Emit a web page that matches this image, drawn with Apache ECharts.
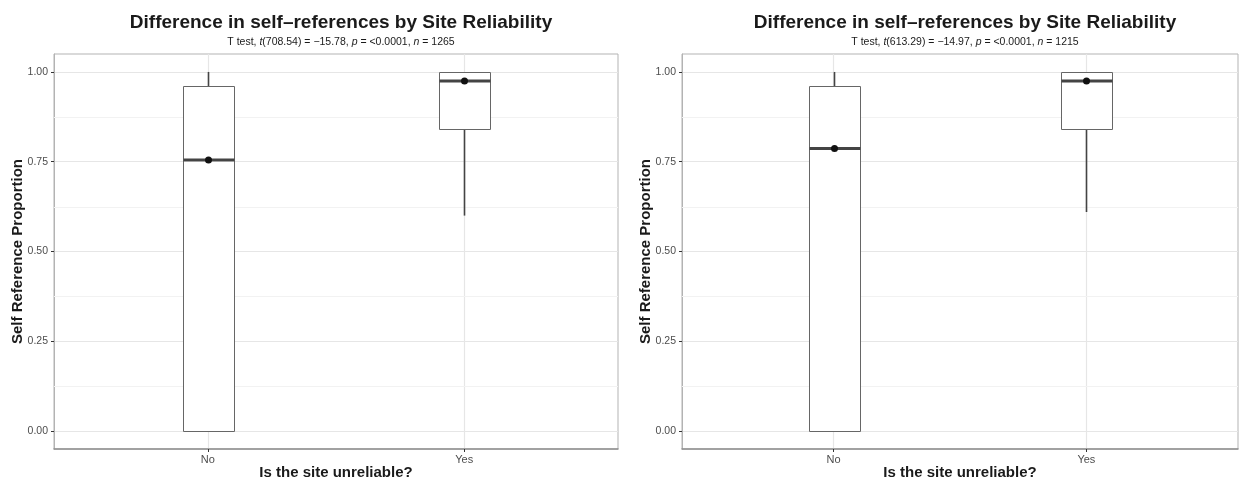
<!DOCTYPE html>
<html>
<head>
<meta charset="utf-8">
<script src="https://cdn.jsdelivr.net/npm/echarts@6/dist/echarts.min.js"></script>
<style>
  html, body { margin: 0; padding: 0; background: #fff; }
  #main { width: 1239px; height: 480px; }
</style>
</head>
<body>
<div id="main"></div>
<script>
// categories on the x axis
var categories = ['No', 'Yes'];
// box stats per category: [lower whisker, Q1, median, Q3, upper whisker]
var leftStats = [[0.0, 0.0, 0.755, 0.96, 1.0], [0.6, 0.84, 0.975, 1.0, 1.0]];
var leftMeans = [0.755, 0.975];
var rightStats = [[0.0, 0.0, 0.787, 0.96, 1.0], [0.61, 0.84, 0.975, 1.0, 1.0]];
var rightMeans = [0.787, 0.975];
// y tick labels and minor grid values
var yTicks = [0, 0.25, 0.5, 0.75, 1];
var yMinor = [0.125, 0.375, 0.625, 0.875];

var titleText = 'Difference in self\u2013references by Site Reliability';
var leftTest = { df: '708.54', t: '\u221215.78', p: '<0.0001', n: '1265' };
var rightTest = { df: '613.29', t: '\u221214.97', p: '<0.0001', n: '1215' };

var FONT = '"Liberation Sans", Arial, Helvetica, sans-serif';

var panels = [
  { left: 54, right: 621, stats: leftStats, means: leftMeans, test: leftTest },
  { left: 682, right: 1, stats: rightStats, means: rightMeans, test: rightTest }
];

function subtitle(t) {
  return '{n|T test, }{i|t}{n|(' + t.df + ') = ' + t.t + ', }{i|p}{n| = ' + t.p +
    ', }{i|n}{n| = ' + t.n + '}';
}

function boxData(stats, means) {
  return stats.map(function (s, i) {
    return [i + 1].concat(s).concat([means[i]]);
  });
}

function renderBox(params, api) {
  var x = api.value(0);
  var lo = api.coord([x, api.value(1)]);
  var q1 = api.coord([x, api.value(2)]);
  var med = api.coord([x, api.value(3)]);
  var q3 = api.coord([x, api.value(4)]);
  var hi = api.coord([x, api.value(5)]);
  var mean = api.coord([x, api.value(6)]);
  var w = Math.round(api.size([0.2, 0])[0]);
  var cx = Math.round(lo[0]) + 0.5;
  var bx = Math.round(cx - w / 2) + 0.5;
  var children = [];
  if (hi[1] < q3[1]) {
    children.push({ type: 'line', shape: { x1: cx, y1: q3[1], x2: cx, y2: hi[1] },
      style: { stroke: '#444', lineWidth: 1.6 } });
  }
  if (lo[1] > q1[1]) {
    children.push({ type: 'line', shape: { x1: cx, y1: lo[1], x2: cx, y2: q1[1] },
      style: { stroke: '#444', lineWidth: 1.6 } });
  }
  children.push({ type: 'rect',
    shape: { x: bx, y: Math.round(q3[1]) + 0.5, width: w, height: Math.round(q1[1] - q3[1]) },
    style: { fill: '#fff', stroke: '#666', lineWidth: 1 } });
  children.push({ type: 'line',
    shape: { x1: bx, y1: med[1], x2: bx + w, y2: med[1] },
    style: { stroke: '#444', lineWidth: 3 } });
  children.push({ type: 'circle', shape: { cx: cx, cy: mean[1], r: 3.5 },
    style: { fill: '#111' } });
  return { type: 'group', children: children };
}

function renderMinor(params, api) {
  var a = api.coord([0.4, api.value(0)]);
  var b = api.coord([2.6, api.value(0)]);
  var y = Math.round(a[1]) + 0.5;
  return { type: 'line', shape: { x1: a[0], y1: y, x2: b[0], y2: y },
    style: { stroke: '#f2f2f2', lineWidth: 1 } };
}

var option = {
  animation: false,
  backgroundColor: '#fff',
  textStyle: { fontFamily: FONT },
  title: [],
  grid: [],
  xAxis: [],
  yAxis: [],
  series: []
};

panels.forEach(function (p, k) {
  var center = (p.left + 1239 - p.right) / 2;
  option.title.push({
    text: titleText,
    subtext: subtitle(p.test),
    left: center,
    top: 8,
    textAlign: 'center',
    itemGap: 5,
    textStyle: { fontFamily: FONT, fontSize: 19, fontWeight: 'bold', color: '#1a1a1a' },
    subtextStyle: {
      fontFamily: FONT,
      rich: {
        n: { fontFamily: FONT, fontSize: 10.5, color: '#1a1a1a' },
        i: { fontFamily: FONT, fontSize: 10.5, color: '#1a1a1a', fontStyle: 'italic' }
      }
    }
  });
  option.grid.push({
    left: p.left, right: p.right, top: 54, bottom: 31,
    outerBoundsMode: 'none', containLabel: false,
    show: true, borderColor: '#b3b3b3', borderWidth: 1, backgroundColor: '#fff'
  });
  option.xAxis.push({
    type: 'value', gridIndex: k, min: 0.4, max: 2.6,
    name: 'Is the site unreliable?', nameLocation: 'middle', nameGap: 16, nameMoveOverlap: false,
    nameTextStyle: { fontFamily: FONT, fontSize: 15, fontWeight: 'bold', color: '#1a1a1a' },
    axisLine: { show: true, onZero: false, lineStyle: { color: '#8f8f8f', width: 1.5 } },
    axisTick: { show: true, length: 3, customValues: [1, 2], lineStyle: { color: '#333' } },
    axisLabel: { customValues: [1, 2], margin: 5, fontSize: 11, color: '#4d4d4d',
      formatter: function (v) { return categories[Math.round(v) - 1] || ''; } },
    splitLine: { show: true, lineStyle: { color: '#e6e6e6', width: 1.2 } }
  });
  option.yAxis.push({
    type: 'value', gridIndex: k, min: -0.05, max: 1.05,
    name: 'Self Reference Proportion', nameLocation: 'middle', nameGap: 29, nameMoveOverlap: false,
    nameTextStyle: { fontFamily: FONT, fontSize: 15, fontWeight: 'bold', color: '#1a1a1a' },
    axisLine: { show: true, onZero: false, lineStyle: { color: '#b3b3b3', width: 1 } },
    axisTick: { show: true, length: 3, customValues: yTicks, lineStyle: { color: '#333' } },
    axisLabel: { customValues: yTicks, margin: 6, fontSize: 10.5, color: '#4d4d4d',
      formatter: function (v) { return v.toFixed(2); } },
    splitLine: { show: true, lineStyle: { color: '#e6e6e6', width: 1.2 } }
  });
  // minor grid lines
  option.series.push({
    type: 'custom', xAxisIndex: k, yAxisIndex: k, z: 1, silent: true,
    renderItem: renderMinor,
    encode: { y: 0 },
    data: yMinor.map(function (v) { return [v]; })
  });
  option.series.push({
    type: 'custom', xAxisIndex: k, yAxisIndex: k, z: 3,
    renderItem: renderBox,
    encode: { x: 0, y: [1, 2, 3, 4, 5] },
    data: boxData(p.stats, p.means)
  });
});

var chart = echarts.init(document.getElementById('main'), null, { renderer: 'canvas' });
chart.setOption(option);
</script>
</body>
</html>
